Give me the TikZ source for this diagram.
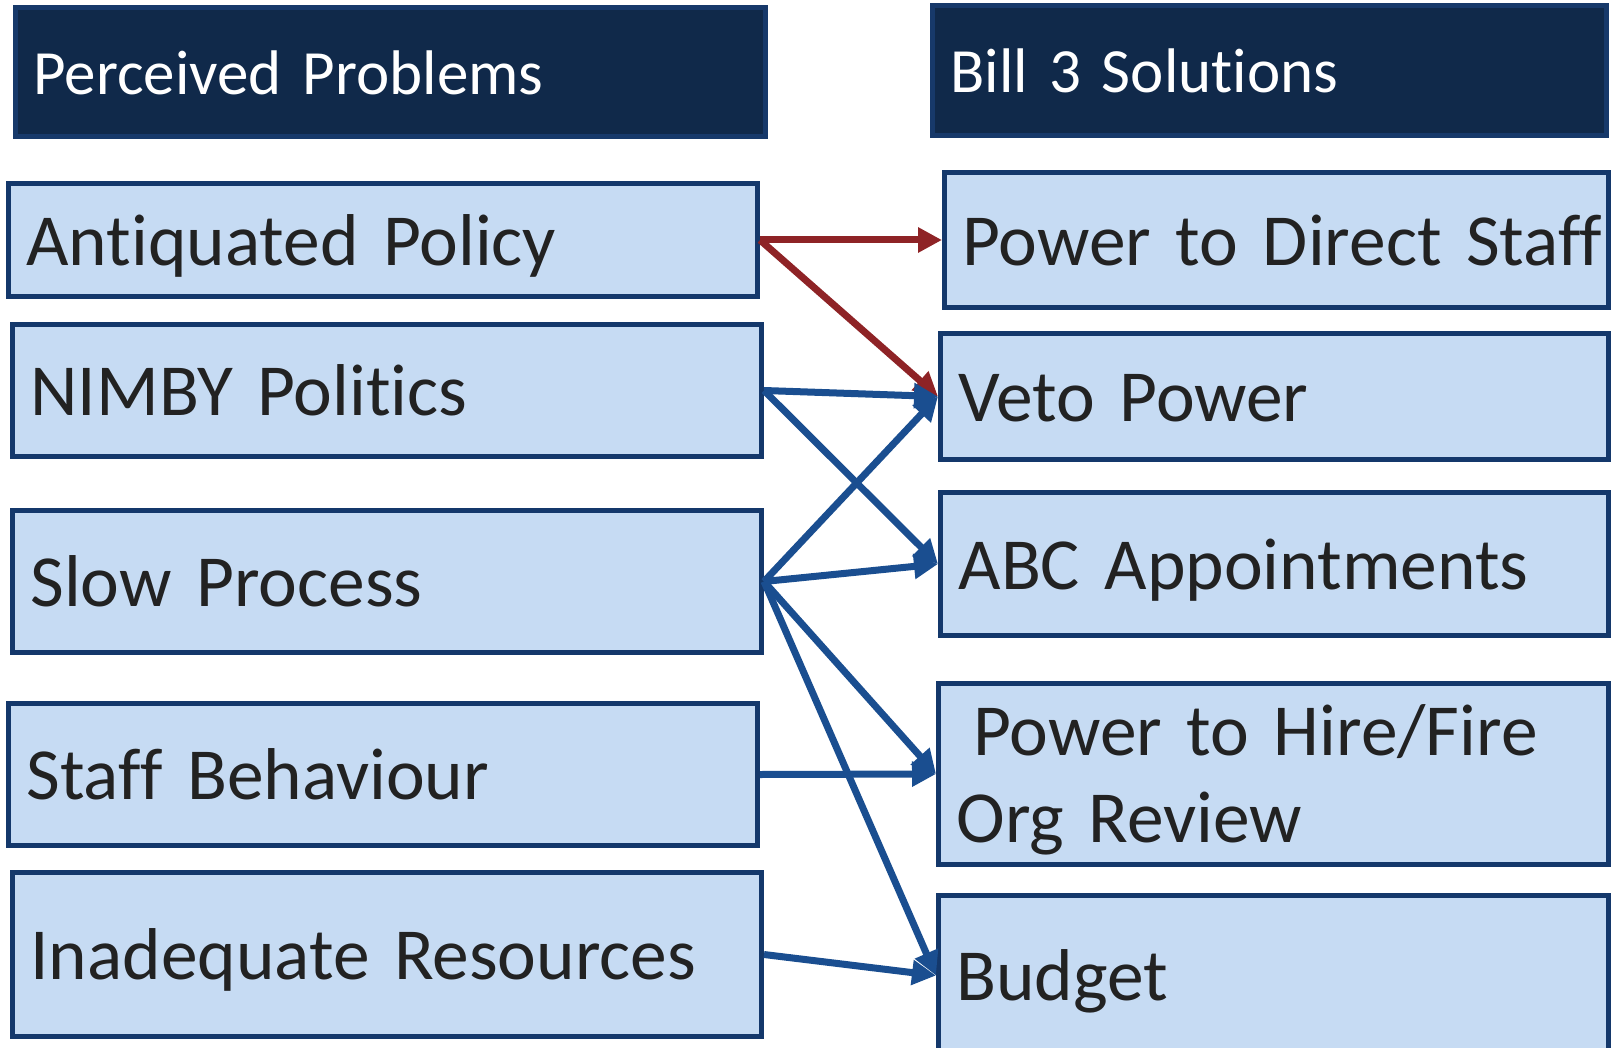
\documentclass[tikz,border=0pt]{standalone}
\usepackage{fontspec}
\setmainfont{Carlito}[Ligatures=NoCommon, WordSpace=0.8]
\usetikzlibrary{arrows.meta}
\definecolor{headfill}{HTML}{10294A}
\definecolor{headline}{HTML}{17396A}
\definecolor{boxfill}{HTML}{C6DBF3}
\definecolor{boxline}{HTML}{14386B}
\definecolor{boxtext}{HTML}{222222}
\definecolor{redarrow}{HTML}{8E2326}
\definecolor{bluearrow}{HTML}{1A4E90}
\tikzset{headbox/.style={draw=headline, fill=headfill, line width=2.5pt, anchor=north west,
           text=white, font=\fontsize{31.5pt}{38pt}\selectfont, align=left,
           inner xsep=9pt, inner ysep=0pt, text height=23.5pt, text depth=1pt},
         itembox/.style={draw=boxline, fill=boxfill, line width=2.5pt, anchor=north west,
           text=boxtext, font=\fontsize{36.7pt}{43.5pt}\selectfont, align=left,
           inner xsep=9pt, inner ysep=0pt, text height=26pt, text depth=1pt},
         link/.style={line width=3.5pt, -{Triangle[length=12pt,width=12pt]}}}

\begin{document}
\begin{tikzpicture}[x=0.5pt, y=-0.5pt]
\useasboundingbox (0,0) rectangle (1611,1048);
% Kopfzeilen:
\node[headbox, text width=357pt, minimum height=64.5pt] (probhead) at (13,5) {Perceived Problems};
\node[headbox, text width=319pt, minimum height=65pt] (solhead) at (930,3) {Bill 3 Solutions};
% Probleme links:
\foreach \name/\x/\y/\h/\txt in {pol/6/181/113/Antiquated Policy,
                                 nim/10/322/132/NIMBY Politics,
                                 slo/10/508/142/Slow Process,
                                 sta/6/701/142/Staff Behaviour,
                                 res/10/870/164/Inadequate Resources}
  \node[itembox, text width=356.5pt, minimum height=\h*0.5pt] (\name) at (\x,\y) {\mbox{\txt}};
% Loesungen rechts:
\foreach \name/\x/\y/\h/\w/\txt in {dir/942/170/135/313.75/Power to Direct Staff,
                                    vet/938/331/126/315.75/Veto Power,
                                    abc/938/490/143/315.75/ABC Appointments,
                                    bud/936/893/160/316.75/Budget}
  \node[itembox, text width=\w pt, minimum height=\h*0.5pt] (\name) at (\x,\y) {\mbox{\txt}};
\node[itembox, text width=316.75pt, minimum height=90.5pt, text depth=45pt] (hir) at (936,681)
  {\hspace*{8.5pt}Power to Hire/Fire\\Org Review};
% Pfeile:
\draw[link, redarrow] (pol.east) -- (dir.west);
\draw[link, redarrow] (pol.east) -- (vet.west);
\draw[link, bluearrow] (nim.east) -- (vet.west);
\draw[link, bluearrow] (nim.east) -- (abc.west);
\foreach \to in {vet,abc,hir,bud}
  \draw[link, bluearrow] (slo.east) -- (\to.west);
\draw[link, bluearrow] (sta.east) -- (hir.west);
\draw[link, bluearrow] (res.east) -- (bud.west);
\end{tikzpicture}
\end{document}
